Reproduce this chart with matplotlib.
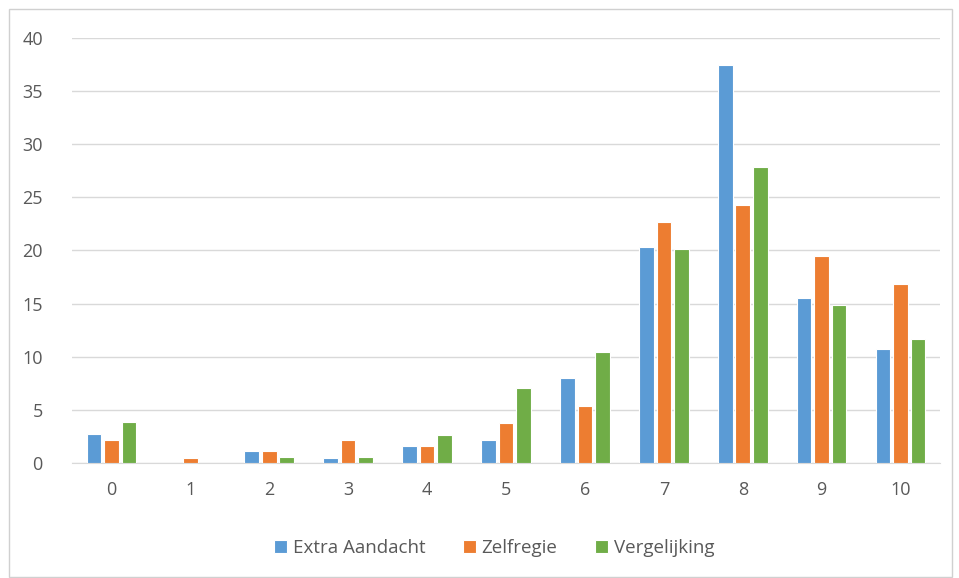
import matplotlib

matplotlib.use("Agg")
import matplotlib.pyplot as plt
import numpy as np
from matplotlib.patches import Rectangle

categories = ["0", "1", "2", "3", "4", "5", "6", "7", "8", "9", "10"]
extra_aandacht = [2.7, 0, 1.1, 0.5, 1.6, 2.2, 8.0, 20.3, 37.5, 15.5, 10.7]
zelfregie = [2.2, 0.5, 1.1, 2.2, 1.6, 3.8, 5.4, 22.7, 24.3, 19.5, 16.8]
vergelijking = [3.9, 0, 0.6, 0.6, 2.6, 7.1, 10.4, 20.1, 27.9, 14.9, 11.7]

series_names = ["Extra Aandacht", "Zelfregie", "Vergelijking"]
colors = ["#5B9BD5", "#ED7D31", "#70AD47"]
text_color = "#595959"
grid_color = "#D9D9D9"

plt.rcParams["font.family"] = ["Open Sans", "DejaVu Sans"]

fig = plt.figure(figsize=(9.59, 5.78), dpi=100)
ax = fig.add_axes([72 / 959, 1 - 463 / 578, 868 / 959, 425 / 578])

x = np.arange(len(categories))
offset = 0.222
width = 0.185
for i, (vals, name, col) in enumerate(zip([extra_aandacht, zelfregie, vergelijking], series_names, colors)):
    ax.bar(x + (i - 1) * offset, vals, width=width, color=col, label=name,
           edgecolor="white", linewidth=0.8, zorder=3)

ax.set_xlim(-0.5, len(categories) - 0.5)
ax.set_ylim(0, 40)
ax.set_yticks(np.arange(0, 41, 5))
ax.set_xticks(x)
ax.set_xticklabels(categories)
ax.yaxis.grid(True, color=grid_color, linewidth=1, zorder=0)
ax.set_axisbelow(True)
for side in ["top", "right", "left"]:
    ax.spines[side].set_visible(False)
ax.spines["bottom"].set_color(grid_color)
ax.tick_params(axis="both", length=0, labelsize=13, colors=text_color)
ax.tick_params(axis="x", pad=13)
ax.tick_params(axis="y", pad=21)

fig.legend(loc="center", bbox_to_anchor=(494 / 959, 1 - 548 / 578), ncol=3, frameon=False,
           fontsize=13.5, handlelength=0.7, handleheight=0.7, handletextpad=0.3,
           columnspacing=2.0, labelcolor=text_color)

fig.patches.append(Rectangle((9 / 959, 0.002), 943 / 959, 1 - 9 / 578 - 0.002, transform=fig.transFigure,
                             fill=False, edgecolor="#D0D0D0", linewidth=1))

fig.savefig("out.png", dpi=100)
